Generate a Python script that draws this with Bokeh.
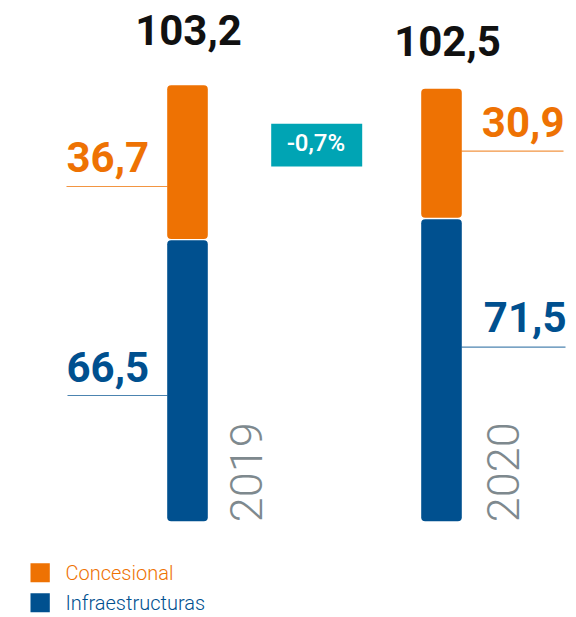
import math
from bokeh.plotting import figure
from bokeh.models import Range1d
from bokeh.core.properties import value
from bokeh.embed import file_html
from bokeh.resources import INLINE

# ---- data ----
years = ["2019", "2020"]
series_names = ["Concesional", "Infraestructuras"]
concesional = [36.7, 30.9]
infraestructuras = [66.5, 71.5]
totals = [103.2, 102.5]
change_label = "-0,7%"

def fmt(v):
    return f"{v:.1f}".replace(".", ",")

# ---- styles ----
ORANGE = "#EE7203"
BLUE = "#00508F"
TEAL = "#00A4B4"
GRAY = "#7E898E"
BLACK = "#111111"

# ---- layout (image pixel coordinates) ----
K = 4.224          # px per unit
BASE = 520.7       # image y of value 0
SHIFT = 0.39       # baseline correction (em)
def Y(img_y):
    return (BASE - img_y) / K
def YT(img_y, fs):
    return Y(img_y - SHIFT * fs)

W, H = 576, 617
p = figure(width=W, height=H, output_backend="svg", toolbar_location=None,
           x_range=Range1d(0, W), y_range=Range1d(Y(H), Y(0)),
           min_border=0, outline_line_color=None)
p.axis.visible = False
p.grid.visible = False
p.background_fill_color = "white"
p.border_fill_color = "white"

bar_x = [187, 441]
bar_w = 40.6
gap = 1.4 / K

# bars
p.vbar(x=bar_x, bottom=0, top=infraestructuras, width=bar_w,
       fill_color=BLUE, line_color=None, border_radius=4)
p.vbar(x=bar_x, bottom=[v + gap for v in infraestructuras],
       top=[a + b for a, b in zip(infraestructuras, concesional)], width=bar_w,
       fill_color=ORANGE, line_color=None, border_radius=4)

FS = 42
# totals
p.text(x=[188, 447], y=[YT(46, FS), YT(57, FS)], text=[fmt(v) for v in totals],
       text_font=value("Roboto"), text_font_style="bold", text_font_size=f"{FS}px",
       text_color=BLACK, text_align="center", text_baseline="alphabetic")

# segment labels 2019 (left side)
p.text(x=[66], y=[YT(173, FS)], text=[fmt(concesional[0])], text_font=value("Roboto"),
       text_font_style="bold", text_font_size=f"{FS}px", text_color=ORANGE,
       text_align="left", text_baseline="alphabetic")
p.text(x=[66], y=[YT(382.7, FS)], text=[fmt(infraestructuras[0])], text_font=value("Roboto"),
       text_font_style="bold", text_font_size=f"{FS}px", text_color=BLUE,
       text_align="left", text_baseline="alphabetic")
# segment labels 2020 (right side)
p.text(x=[564], y=[YT(138, FS)], text=[fmt(concesional[1])], text_font=value("Roboto"),
       text_font_style="bold", text_font_size=f"{FS}px", text_color=ORANGE,
       text_align="right", text_baseline="alphabetic")
p.text(x=[566], y=[YT(333, FS)], text=[fmt(infraestructuras[1])], text_font=value("Roboto"),
       text_font_style="bold", text_font_size=f"{FS}px", text_color=BLUE,
       text_align="right", text_baseline="alphabetic")

# leader lines
p.segment(x0=[66, 461], y0=[Y(186), Y(150.7)], x1=[167, 563], y1=[Y(186), Y(150.7)],
          line_color=ORANGE, line_width=1.2, line_alpha=0.75)
p.segment(x0=[67, 461], y0=[Y(395), Y(346.7)], x1=[167, 565], y1=[Y(395), Y(346.7)],
          line_color=BLUE, line_width=1.2, line_alpha=0.7)

# year labels (vertical)
YFS = 45
p.text(x=[263 - SHIFT * YFS, 520 - SHIFT * YFS], y=[Y(521.7), Y(521.7)], text=years,
       angle=math.pi / 2,
       text_font=value("Roboto Light, Roboto"), text_font_size=f"{YFS}px",
       text_color=GRAY, text_align="left", text_baseline="alphabetic")

# change badge
BFS = 24
p.quad(left=[270.7], right=[361.7], top=[Y(123.3)], bottom=[Y(166)],
       fill_color=TEAL, line_color=None)
p.text(x=[315.5], y=[YT(152, BFS)], text=[change_label],
       text_font=value("Roboto Medium, Roboto"),
       text_font_size=f"{BFS}px", text_color="white", text_align="center",
       text_baseline="alphabetic")

# legend
LFS = 20
leg_top = [562.7, 592.7]
p.quad(left=[30, 30], right=[49.3, 49.3], top=[Y(t) for t in leg_top],
       bottom=[Y(t + 19) for t in leg_top], fill_color=[ORANGE, BLUE], line_color=None)
p.text(x=[65, 65], y=[YT(580.7, LFS), YT(610.3, LFS)], text=series_names,
       text_font=value("Roboto Light, Roboto"), text_font_size=f"{LFS}px",
       text_color=[ORANGE, BLUE], text_align="left", text_baseline="alphabetic")

open("out.html", "w").write(file_html(p, INLINE))
